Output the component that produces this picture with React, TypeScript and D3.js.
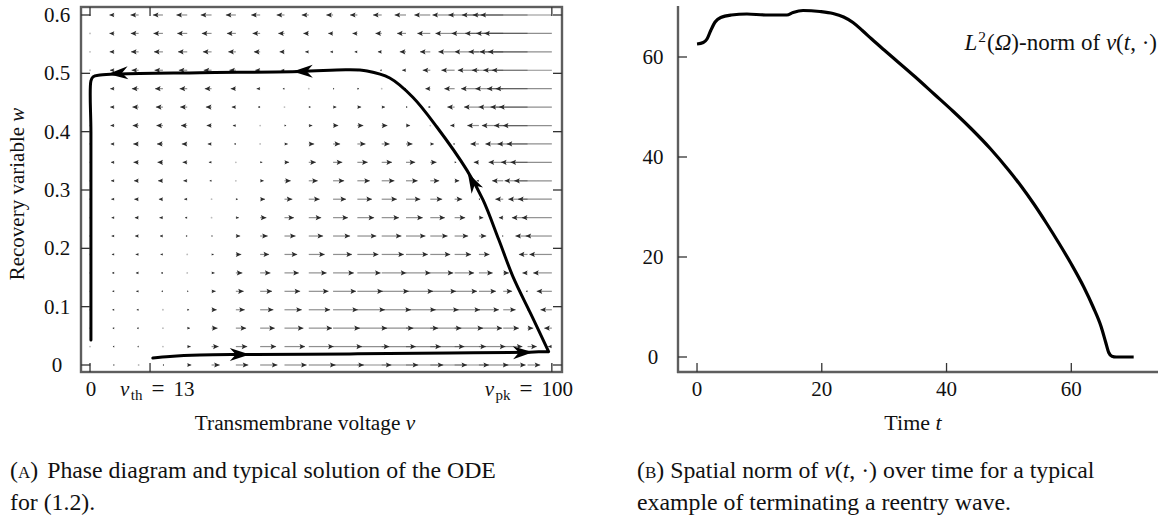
import React from "react";
import * as d3 from "d3";

// phase plane grid (v across, w up)
const V_GRID = [0, 5.26, 10.53, 15.79, 21.05, 26.32, 31.58, 36.84, 42.11, 47.37, 52.63, 57.89, 63.16, 68.42, 73.68, 78.95, 84.21, 89.47, 94.74, 100];
const W_GRID = [0, 0.0316, 0.0632, 0.0947, 0.1263, 0.1579, 0.1895, 0.2211, 0.2526, 0.2842, 0.3158, 0.3474, 0.3789, 0.4105, 0.4421, 0.4737, 0.5053, 0.5368, 0.5684, 0.6];

// horizontal component of the field at every node, bottom row (w = 0) first
const DV_FIELD = [
  [0, -4, -3, 4, 15, 30, 46, 64, 82, 99, 114, 126, 135, 138, 136, 127, 109, 83, 47, 0],
  [0, -5, -4, 2, 13, 26, 42, 59, 76, 92, 107, 118, 126, 129, 126, 116, 98, 71, 34, -14],
  [0, -6, -6, 0, 10, 22, 38, 54, 70, 86, 99, 110, 117, 119, 115, 105, 86, 58, 21, -28],
  [0, -7, -7, -2, 7, 19, 33, 49, 64, 79, 92, 102, 108, 110, 105, 94, 74, 46, 8, -42],
  [0, -7, -9, -5, 4, 15, 29, 44, 58, 73, 85, 94, 100, 100, 95, 83, 63, 33, -6, -56],
  [0, -8, -10, -7, 1, 11, 24, 38, 53, 66, 77, 86, 91, 91, 85, 72, 51, 21, -19, -69],
  [0, -9, -11, -9, -2, 8, 20, 33, 47, 59, 70, 78, 82, 81, 74, 61, 39, 9, -32, -83],
  [0, -10, -13, -11, -5, 4, 16, 28, 41, 53, 63, 70, 73, 72, 64, 50, 27, -4, -45, -97],
  [0, -10, -14, -13, -8, 1, 11, 23, 35, 46, 55, 62, 64, 62, 54, 39, 16, -16, -58, -111],
  [0, -11, -16, -15, -11, -3, 7, 18, 29, 40, 48, 54, 56, 53, 44, 28, 4, -29, -71, -125],
  [0, -12, -17, -18, -14, -7, 2, 13, 23, 33, 41, 46, 47, 43, 33, 17, -8, -41, -85, -139],
  [0, -12, -19, -20, -17, -10, -2, 8, 17, 26, 34, 38, 38, 34, 23, 6, -19, -54, -98, -153],
  [0, -13, -20, -22, -20, -14, -6, 3, 12, 20, 26, 30, 29, 24, 13, -5, -31, -66, -111, -167],
  [0, -14, -22, -24, -23, -18, -11, -3, 6, 13, 19, 22, 21, 15, 3, -16, -43, -79, -124, -181],
  [0, -15, -23, -26, -26, -21, -15, -8, 0, 7, 12, 14, 12, 5, -8, -27, -55, -91, -137, -195],
  [0, -15, -25, -29, -28, -25, -19, -13, -6, 0, 4, 6, 3, -4, -18, -38, -66, -103, -150, -208],
  [0, -16, -26, -31, -31, -29, -24, -18, -12, -6, -3, -2, -6, -14, -28, -49, -78, -116, -164, -222],
  [0, -17, -28, -33, -34, -32, -28, -23, -18, -13, -10, -10, -14, -23, -38, -60, -90, -128, -177, -236],
  [0, -18, -29, -35, -37, -36, -33, -28, -23, -20, -18, -18, -23, -33, -48, -71, -101, -141, -190, -250],
  [0, -18, -30, -37, -40, -40, -37, -33, -29, -26, -25, -27, -32, -42, -59, -82, -113, -153, -203, -264],
];

// typical solution of the ODE: the slow rise along w ~ 0, then the return loop
const TRAJ_LOW_V = [13.6, 17.3, 23.8, 32.5, 56.3, 77.9, 95.2, 99.3];
const TRAJ_LOW_W = [0.012, 0.0146, 0.017, 0.018, 0.019, 0.0206, 0.022, 0.023];
const TRAJ_HIGH_V = [99.3, 95.6, 91.6, 88.5, 85.1, 81.6, 75.1, 69.9, 64.9, 60.0, 55.6, 45.5, 23.8, 6.5, 2.2, 0.65, 0.2, 0.2, 0.2, 0.2];
const TRAJ_HIGH_W = [0.023, 0.085, 0.151, 0.215, 0.283, 0.334, 0.408, 0.459, 0.492, 0.504, 0.506, 0.503, 0.501, 0.499, 0.497, 0.494, 0.487, 0.4, 0.283, 0.043];
const TRAJ_ARROW_V = [34.6, 95.9, 81.8, 43.9, 3.9];
const TRAJ_ARROW_W = [0.018, 0.022, 0.329, 0.503, 0.499];

const W_TICKS = [0, 0.1, 0.2, 0.3, 0.4, 0.5, 0.6];
const V_TICKS = [0, 13, 100];

// L2 norm over time
const TIME = [0, 1.0, 1.6, 2.2, 2.9, 3.8, 5.5, 8.0, 11.0, 14.4, 15.4, 17.0, 19.7, 21.8, 23.5, 25.0, 26.5, 28.0, 30.0, 35.0, 38.0, 41.0, 44.0, 47.0, 50.0, 52.0, 54.0, 56.0, 58.0, 60.0, 62.0, 63.5, 64.8, 65.5, 66.0, 66.5, 67.2, 70.0];
const NORM = [62.6, 62.9, 63.6, 65.3, 67.0, 67.9, 68.4, 68.6, 68.4, 68.4, 68.9, 69.3, 69.1, 68.7, 68.0, 66.9, 65.3, 63.6, 61.4, 56.0, 52.6, 49.2, 45.6, 41.7, 37.3, 34.1, 30.6, 26.8, 22.8, 18.6, 14.0, 10.0, 6.0, 3.0, 0.9, 0.15, 0, 0];
const T_TICKS = [0, 20, 40, 60];
const N_TICKS = [0, 20, 40, 60];

const FONT = "'Liberation Serif', 'Times New Roman', serif";

export default function App() {
  const xA = d3.scaleLinear().domain([-1.95, 102.2]).range([81, 562]);
  const yA = d3.scaleLinear().domain([-0.012, 0.6137]).range([372, 7]);
  const xB = d3.scaleLinear().domain([-3.05, 73.9]).range([678, 1158]);
  const yB = d3.scaleLinear().domain([-3, 70]).range([372, 7]);

  const quiverK = 0.0585;
  const shafts: any[] = [];
  const heads: any[] = [];
  const dots: any[] = [];
  W_GRID.forEach((w, i) => {
    V_GRID.forEach((v, j) => {
      const dv = DV_FIELD[i][j];
      const x0 = xA(v);
      const y0 = yA(w);
      const x1 = xA(v + dv * quiverK);
      const len = x1 - x0;
      const key = i + "-" + j;
      if (Math.abs(len) < 1) {
        dots.push(<circle key={key} cx={x0} cy={y0} r={0.9} fill="#bbb" />);
        return;
      }
      const dir = Math.sign(len);
      const hl = Math.min(5.5, Math.abs(len));
      const hw = Math.max(1, (2.6 * hl) / 5.5);
      shafts.push(
        <line key={key} x1={x0} y1={y0} x2={x1} y2={y0} stroke="#444" strokeOpacity={0.6} strokeWidth={1.2} />
      );
      heads.push(
        <path
          key={key}
          d={`M${x1},${y0}L${x1 - dir * hl},${y0 - hw}L${x1 - dir * hl * 0.8},${y0}L${x1 - dir * hl},${y0 + hw}Z`}
          fill="#2a2a2a"
        />
      );
    });
  });

  const curve = d3.line().curve(d3.curveCatmullRom.alpha(0.5));
  const lowPts: [number, number][] = TRAJ_LOW_V.map((v, i) => [xA(v), yA(TRAJ_LOW_W[i])]);
  const highPts: [number, number][] = TRAJ_HIGH_V.map((v, i) => [xA(v), yA(TRAJ_HIGH_W[i])]);
  const trajPath = (curve(lowPts) || "") + (curve(highPts) || "");
  const trajPts = lowPts.concat(highPts);

  const bigHeads = TRAJ_ARROW_V.map((v, k) => {
    const tx = xA(v);
    const ty = yA(TRAJ_ARROW_W[k]);
    let best = 0;
    let bestD = Infinity;
    for (let s = 0; s < trajPts.length - 1; s++) {
      const [ax, ay] = trajPts[s];
      const [bx, by] = trajPts[s + 1];
      const dx = bx - ax, dy = by - ay;
      const dd = dx * dx + dy * dy;
      if (dd === 0) continue;
      const t = Math.max(0, Math.min(1, ((tx - ax) * dx + (ty - ay) * dy) / dd));
      const d = Math.hypot(ax + t * dx - tx, ay + t * dy - ty);
      if (d < bestD) { bestD = d; best = s; }
    }
    const [ax, ay] = trajPts[best];
    const [bx, by] = trajPts[best + 1];
    const ang = (Math.atan2(by - ay, bx - ax) * 180) / Math.PI;
    return (
      <path
        key={"ah" + k}
        transform={`translate(${tx},${ty}) rotate(${ang})`}
        d="M0,0L-20,-6.5L-14,0L-20,6.5Z"
        fill="#000"
      />
    );
  });

  const normPath =
    d3
      .line<number>()
      .x((d, i) => xB(TIME[i]))
      .y((d) => yB(d))
      .curve(d3.curveMonotoneX)(NORM) || "";

  const tickColor = "#333";
  const frameColor = "#5e5e5e";
  const ink = "#111";

  return (
    <svg
      width={1162}
      height={519}
      style={{ position: "absolute", left: 0, top: 0, background: "#fff" }}
      fontFamily={FONT}
    >
      {/* ---- panel A ---- */}
      <g>
        {shafts}
        {dots}
        {heads}
        <path d={trajPath} fill="none" stroke="#000" strokeWidth={3} strokeLinejoin="round" strokeLinecap="round" />
        {bigHeads}
        <rect x={81} y={7} width={481} height={365} fill="none" stroke={frameColor} strokeWidth={2.4} />
        {W_TICKS.map((w) => (
          <g key={"wt" + w}>
            <line x1={81} x2={90} y1={yA(w)} y2={yA(w)} stroke={tickColor} strokeWidth={1.3} />
            <line x1={562} x2={553} y1={yA(w)} y2={yA(w)} stroke={tickColor} strokeWidth={1.3} />
            <text x={57} y={yA(w) + 7} textAnchor="middle" fontSize={21} fill={ink}>
              {w === 0 ? "0" : w.toFixed(1)}
            </text>
          </g>
        ))}
        {V_TICKS.map((v) => (
          <g key={"vt" + v}>
            <line x1={xA(v)} x2={xA(v)} y1={372} y2={363} stroke={tickColor} strokeWidth={1.3} />
            <line x1={xA(v)} x2={xA(v)} y1={7} y2={16} stroke={tickColor} strokeWidth={1.3} />
          </g>
        ))}
        <text x={xA(0) + 1} y={396} textAnchor="middle" fontSize={21} fill={ink}>0</text>
        <text x={120} y={396} fontSize={21} fill={ink}>
          <tspan fontStyle="italic">v</tspan>
          <tspan fontSize={15} dy={4} dx={1.5}>th</tspan>
          <tspan dy={-4} dx={9} fontSize={23}>=</tspan>
          <tspan dx={9}>13</tspan>
        </text>
        <text x={573} y={396} textAnchor="end" fontSize={21} fill={ink}>
          <tspan fontStyle="italic">v</tspan>
          <tspan fontSize={15} dy={4} dx={1.5}>pk</tspan>
          <tspan dy={-4} dx={9} fontSize={23}>=</tspan>
          <tspan dx={9}>100</tspan>
        </text>
        <text x={305} y={430} textAnchor="middle" fontSize={21.3} fill={ink}>
          Transmembrane voltage <tspan fontStyle="italic">v</tspan>
        </text>
        <text transform="translate(24,194) rotate(-90)" textAnchor="middle" fontSize={21} fill={ink}>
          Recovery variable <tspan fontStyle="italic">w</tspan>
        </text>
        <text x={10} y={478} fontSize={23.8} fill={ink}>
          (<tspan fontSize={17}>A</tspan>)<tspan dx={9}>Phase diagram and typical solution of the ODE</tspan>
        </text>
        <text x={10} y={510} fontSize={23.8} fill={ink}>for (1.2).</text>
      </g>

      {/* ---- panel B ---- */}
      <g>
        <path d={normPath} fill="none" stroke="#000" strokeWidth={3.2} strokeLinejoin="round" />
        <line x1={678} x2={678} y1={6} y2={373} stroke={frameColor} strokeWidth={2.4} />
        <line x1={677} x2={1158} y1={372} y2={372} stroke={frameColor} strokeWidth={2.4} />
        {N_TICKS.map((n) => (
          <g key={"nt" + n}>
            <line x1={678} x2={687} y1={yB(n)} y2={yB(n)} stroke={tickColor} strokeWidth={1.3} />
            <text x={653} y={yB(n) + 7} textAnchor="middle" fontSize={21} fill={ink}>{n}</text>
          </g>
        ))}
        {T_TICKS.map((t) => (
          <g key={"tt" + t}>
            <line x1={xB(t)} x2={xB(t)} y1={372} y2={363} stroke={tickColor} strokeWidth={1.3} />
            <text x={xB(t)} y={396} textAnchor="middle" fontSize={21} fill={ink}>{t}</text>
          </g>
        ))}
        <text x={913} y={430} textAnchor="middle" fontSize={22} fill={ink}>
          Time <tspan fontStyle="italic">t</tspan>
        </text>
        <text x={1157} y={50} textAnchor="end" fontSize={23} fill={ink}>
          <tspan fontStyle="italic">L</tspan>
          <tspan fontSize={15.5} dy={-8} dx={1}>2</tspan>
          <tspan dy={8} dx={1}>(</tspan>
          <tspan fontStyle="italic">Ω</tspan>
          <tspan>)-norm of </tspan>
          <tspan fontStyle="italic">v</tspan>
          <tspan>(</tspan>
          <tspan fontStyle="italic">t</tspan>
          <tspan>, ·)</tspan>
        </text>
        <text x={637} y={478} fontSize={23.8} fill={ink}>
          (<tspan fontSize={17}>B</tspan>) Spatial norm of <tspan fontStyle="italic">v</tspan>(<tspan fontStyle="italic">t</tspan>, ·) over time for a typical
        </text>
        <text x={637} y={510} fontSize={23.8} fill={ink}>example of terminating a reentry wave.</text>
      </g>
    </svg>
  );
}
